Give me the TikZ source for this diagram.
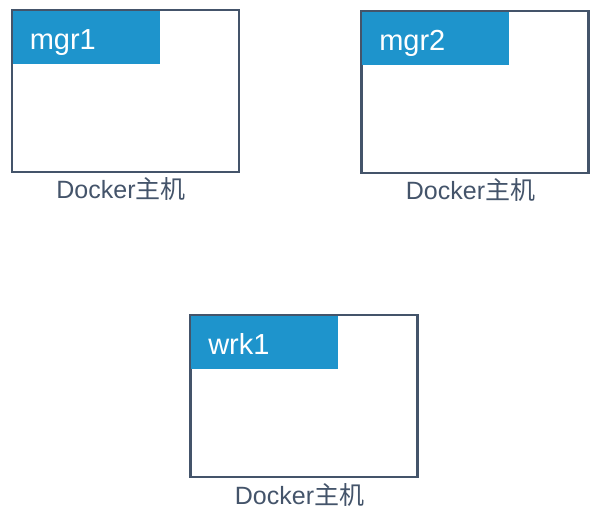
\documentclass[tikz,border=0pt]{standalone}
\usepackage{fontspec}
\setmainfont{Liberation Sans}
\newfontfamily\cjk{Noto Sans CJK SC}
\definecolor{frame}{RGB}{68,84,106}
\definecolor{tagblue}{RGB}{30,148,204}
\begin{document}
\begin{tikzpicture}[x=1pt,y=-1pt,
  hostbox/.style={draw=frame,line width=2.4pt,minimum width=227pt,minimum height=162pt,inner sep=0pt,outer sep=0pt},
  tagbox/.style={fill=tagblue,minimum width=147pt,minimum height=53pt,inner sep=0pt,anchor=north west},
  tagtext/.style={text=white,font=\fontsize{29}{29}\selectfont,anchor=base west,inner sep=0pt},
  hostlabel/.style={text=frame,font=\fontsize{25}{25}\selectfont,anchor=base,inner sep=0pt}]
\useasboundingbox (0,0) rectangle (595,526);
% mgr1
\node[hostbox] (m1) at (125.5,91) {};
\node[tagbox] (t1) at ([shift={(0.6pt,-0.6pt)}]m1.north west) {};
\node[tagtext] (l1) at ([shift={(17pt,-39pt)}]t1.north west) {mgr1};
\node[hostlabel] (d1) at ([shift={(-4.5pt,-27pt)}]m1.south) {Docker{\cjk 主机}};
% mgr2
\node[hostbox] (m2) at (475,92) {};
\node[tagbox] (t2) at ([shift={(0.6pt,-0.6pt)}]m2.north west) {};
\node[tagtext] (l2) at ([shift={(17pt,-39pt)}]t2.north west) {mgr2};
\node[hostlabel] (d2) at ([shift={(-4.5pt,-27pt)}]m2.south) {Docker{\cjk 主机}};
% wrk1
\node[hostbox] (w1) at (304,396) {};
\node[tagbox] (t3) at ([shift={(0.6pt,-0.6pt)}]w1.north west) {};
\node[tagtext] (l3) at ([shift={(17pt,-39pt)}]t3.north west) {wrk1};
\node[hostlabel] (d3) at ([shift={(-4.5pt,-27.5pt)}]w1.south) {Docker{\cjk 主机}};
\end{tikzpicture}
\end{document}
